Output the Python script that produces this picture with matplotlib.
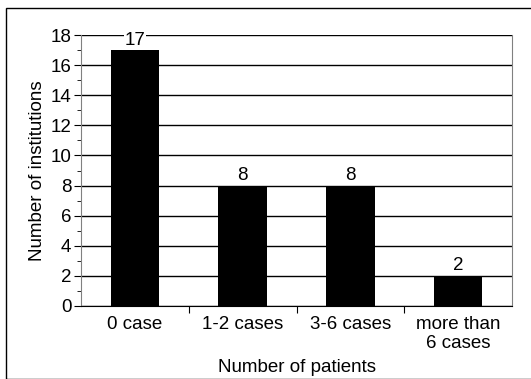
import matplotlib
matplotlib.use('Agg')
import matplotlib.pyplot as plt
from matplotlib.patches import Rectangle
from matplotlib.ticker import MultipleLocator

categories = ['0 case', '1-2 cases', '3-6 cases', 'more than\n6 cases']
counts = [17, 8, 8, 2]

plt.rcParams['font.family'] = ['Liberation Sans', 'DejaVu Sans']
plt.rcParams['font.size'] = 13.5

fig = plt.figure(figsize=(5.31, 3.79), dpi=100)
ax = fig.add_axes([81 / 531, 1 - 306 / 379, 431 / 531, 271 / 379])

x = list(range(len(categories)))
ax.bar(x, counts, width=0.45, color='black', zorder=3)
for xi, c in zip(x, counts):
    ax.text(xi, c + 0.1, str(c), ha='center', va='bottom', zorder=4,
            bbox=dict(facecolor='white', edgecolor='none', pad=0.3))

ax.set_xlim(-0.5, len(categories) - 0.5)
ax.set_ylim(0, 18)
ax.yaxis.set_major_locator(MultipleLocator(2))
ax.yaxis.set_minor_locator(MultipleLocator(1))
ax.grid(axis='y', color='black', linewidth=1, zorder=0)

ax.set_xticks([i + 0.5 for i in x[:-1]])
ax.set_xticklabels([])
ax.set_xticks(x, minor=True)
ax.set_xticklabels(categories, minor=True, linespacing=1.2)
ax.tick_params(axis='x', which='minor', length=0, pad=7)
ax.tick_params(axis='x', which='major', length=5, direction='out', color='black')
ax.tick_params(axis='y', which='major', length=5, direction='out', pad=2)
ax.tick_params(axis='y', which='minor', length=3, direction='out')

ax.spines['top'].set_visible(False)
ax.spines['right'].set_color('#808080')
ax.spines['left'].set_color('#808080')
ax.spines['bottom'].set_color('black')

ax.set_ylabel('Number of institutions', labelpad=3)
ax.set_xlabel('Number of patients', labelpad=5)

fig.patches.append(Rectangle((6 / 531, 0), 1 - 6 / 531 + 0.01, 1 - 8 / 379,
                             transform=fig.transFigure, fill=False,
                             edgecolor='black', linewidth=1))

fig.savefig('out.png', dpi=100)
